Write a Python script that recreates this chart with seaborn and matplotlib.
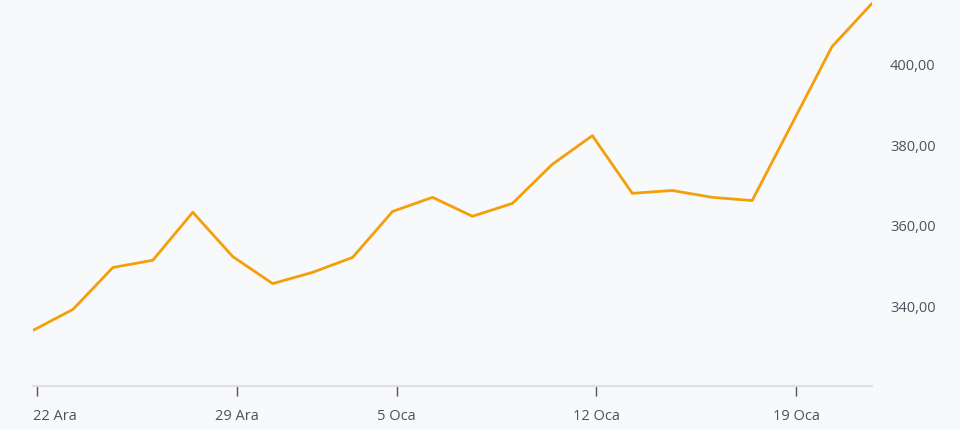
import numpy as np
import pandas as pd
import matplotlib
matplotlib.use("Agg")
import matplotlib.pyplot as plt
import matplotlib.transforms as mtransforms
import seaborn as sns

# trading days, 22 Ara - 21 Oca
dates = ["22 Ara", "23 Ara", "24 Ara", "25 Ara", "26 Ara",
         "29 Ara", "30 Ara", "31 Ara", "2 Oca",
         "5 Oca", "6 Oca", "7 Oca", "8 Oca", "9 Oca",
         "12 Oca", "13 Oca", "14 Oca", "15 Oca", "16 Oca",
         "19 Oca", "20 Oca", "21 Oca"]
prices = [333.8, 339.0, 349.4, 351.2, 363.1,
          352.1, 345.4, 348.2, 351.9,
          363.3, 366.8, 362.1, 365.3, 375.0,
          382.1, 367.8, 368.5, 366.8, 366.0,
          385.1, 404.2, 414.9]
tick_labels = ["22 Ara", "29 Ara", "5 Oca", "12 Oca", "19 Oca"]
y_ticks = [340, 360, 380, 400]

df = pd.DataFrame({"date": dates, "price": prices})
df["idx"] = np.arange(len(df))

bg = "#f8f9fb"
sns.set_style("white")
plt.rcParams['font.family'] = ['Open Sans', 'DejaVu Sans']

fig = plt.figure(figsize=(9.6, 4.31), dpi=100, facecolor=bg)
ax = fig.add_axes([33 / 960, 44 / 431, (872 - 33) / 960, (431 - 44) / 431])
ax.set_facecolor(bg)

sns.lineplot(data=df, x="idx", y="price", ax=ax, color="#f59e0b", linewidth=2)

ax.set_xlim(0, len(df) - 1)
ax.set_ylim(320, 416)

# ticks sit a little after the day's point, like the original
tick_pos = [dates.index(t) + 0.1 for t in tick_labels]
ax.set_xticks(tick_pos)
ax.set_xticklabels(tick_labels)
ax.set_yticks(y_ticks)
ax.set_yticklabels([f"{v:.2f}".replace(".", ",") for v in y_ticks])

ax.yaxis.tick_right()
ax.tick_params(axis="y", length=0, pad=13, labelsize=10.5, labelcolor="#4d535c")
ax.tick_params(axis="x", length=7, width=1, color="#555555", pad=9,
               labelsize=10.5, labelcolor="#4d535c", direction="out", bottom=True)

# first label kept inside the left edge
first = ax.get_xticklabels()[0]
first.set_horizontalalignment("left")
first.set_transform(first.get_transform() +
                    mtransforms.ScaledTranslation(-4 / 100, 0, fig.dpi_scale_trans))

for s in ["top", "left", "right"]:
    ax.spines[s].set_visible(False)
ax.spines["bottom"].set_color("#dddfe3")
ax.spines["bottom"].set_linewidth(1.5)
ax.set_xlabel("")
ax.set_ylabel("")
ax.grid(False)

fig.savefig("out.png", dpi=100, facecolor=bg)
